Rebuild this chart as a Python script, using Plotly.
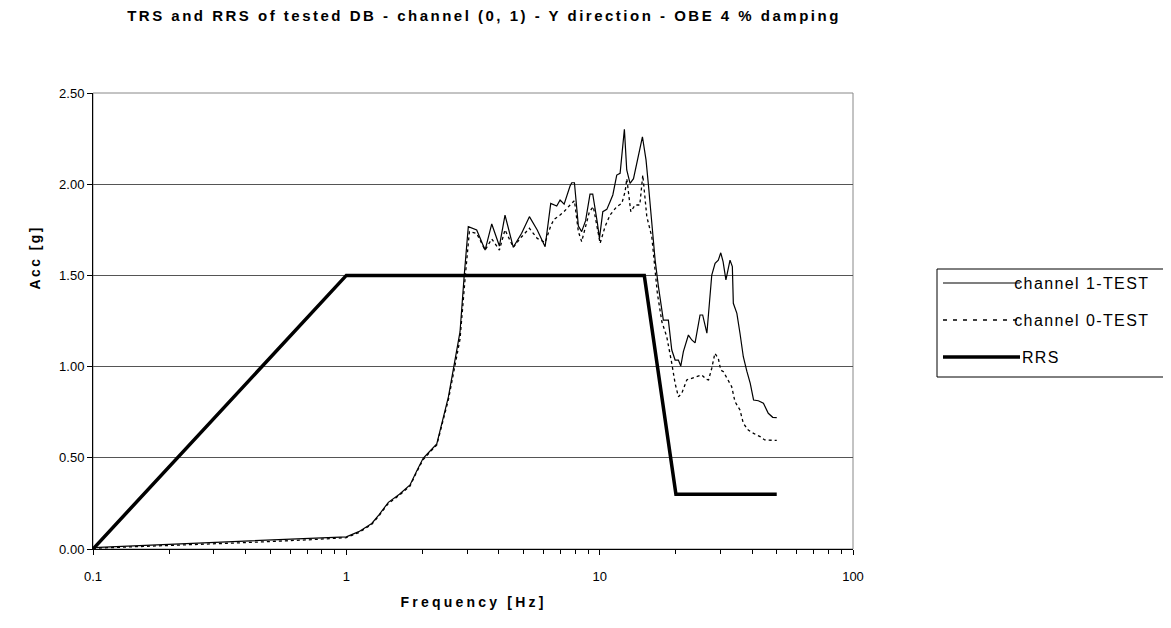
import plotly.graph_objects as go

title_text = "TRS and RRS of tested DB - channel (0, 1) - Y direction - OBE 4 % damping"
x_title = "Frequency [Hz]"
y_title = "Acc [g]"
series_names = ["channel 1-TEST", "channel 0-TEST", "RRS"]

ch1_freq = [0.1, 0.3, 0.6, 1.0, 1.12, 1.26, 1.35, 1.465, 1.62, 1.784, 1.9, 2.01, 2.15, 2.275,
            2.53, 2.81, 2.92, 3.03, 3.27, 3.53, 3.75, 4.02, 4.23, 4.56, 4.92, 5.28, 5.67, 6.09,
            6.41, 6.77, 6.98, 7.24, 7.64, 7.76, 7.95, 8.24, 8.49, 8.8, 9.16, 9.39, 9.8, 9.98,
            10.29, 10.67, 10.99, 11.27, 11.68, 12.04, 12.52, 12.79, 13.18, 13.6, 14.75, 15.24,
            15.6, 16.05, 16.55, 17.06, 17.84, 18.67, 19.26, 19.85, 20.45, 20.9, 21.4, 22.4,
            23.1, 23.8, 24.9, 25.5, 26.5, 27.7, 28.55, 29.4, 30.06, 30.7, 31.5, 32.7, 33.4,
            33.7, 34.8, 35.8, 36.9, 38.1, 39.3, 40.5, 42.3, 44.3, 46.3, 48.2, 50.0]
ch1_acc = [0.008, 0.035, 0.055, 0.067, 0.095, 0.14, 0.19, 0.256, 0.30, 0.351, 0.43, 0.497, 0.54, 0.576,
           0.835, 1.19, 1.50, 1.767, 1.749, 1.639, 1.782, 1.661, 1.831, 1.654, 1.731, 1.822, 1.749, 1.657,
           1.895, 1.880, 1.913, 1.891, 1.99, 2.008, 2.008, 1.771, 1.740, 1.80, 1.946, 1.946, 1.786, 1.703,
           1.849, 1.862, 1.904, 1.941, 2.050, 2.060, 2.301, 2.078, 2.005, 2.03, 2.26, 2.133,
           1.986, 1.804, 1.585, 1.438, 1.255, 1.255, 1.091, 1.036, 1.036, 1.003, 1.082, 1.173,
           1.146, 1.13, 1.283, 1.283, 1.183, 1.502, 1.566, 1.584, 1.624, 1.575, 1.475, 1.584, 1.548,
           1.347, 1.292, 1.183, 1.054, 0.975, 0.908, 0.817, 0.813, 0.799, 0.744, 0.722, 0.72]

ch0_freq = [0.1, 0.2, 0.4, 0.7, 1.0, 1.12, 1.26, 1.35, 1.465, 1.62, 1.784, 1.9, 2.01, 2.15, 2.275,
            2.53, 2.81, 2.95, 3.0, 3.06, 3.27, 3.53, 3.75, 4.02, 4.23, 4.56, 4.92, 5.28, 5.67, 6.09,
            6.41, 6.6, 6.98, 7.24, 7.64, 7.95, 8.24, 8.49, 9.11, 9.44, 10.04, 10.5, 10.99, 11.68,
            12.23, 12.6, 12.8, 13.27, 13.8, 14.4, 14.8, 15.35, 16.06, 16.55, 16.9, 17.6, 18.4,
            19.26, 19.85, 20.45, 21.09, 22.07, 23.1, 24.17, 25.3, 26.4, 26.9, 27.7, 28.5, 29.4,
            30.06, 30.8, 32.2, 33.2, 34.2, 35.8, 36.9, 38.6, 40.5, 43.0, 44.8, 50.0]
ch0_acc = [0.004, 0.018, 0.035, 0.05, 0.062, 0.09, 0.135, 0.185, 0.25, 0.295, 0.345, 0.425, 0.49, 0.535, 0.57,
           0.82, 1.15, 1.50, 1.63, 1.74, 1.73, 1.639, 1.70, 1.639, 1.75, 1.654, 1.712, 1.758, 1.703, 1.68,
           1.771, 1.807, 1.831, 1.85, 1.886, 1.91, 1.74, 1.685, 1.849, 1.877, 1.676, 1.767, 1.831, 1.877,
           1.895, 1.959, 2.03, 1.849, 1.886, 1.886, 2.05, 1.822, 1.712, 1.53, 1.40, 1.246, 1.164,
           1.018, 0.908, 0.835, 0.853, 0.927, 0.936, 0.945, 0.954, 0.93, 0.927, 0.991, 1.073, 1.045,
           0.981, 0.972, 0.927, 0.89, 0.808, 0.762, 0.689, 0.652, 0.634, 0.616, 0.598, 0.595]

rrs_freq = [0.1, 1.0, 15.0, 20.0, 50.0]
rrs_acc = [0.0, 1.5, 1.5, 0.3, 0.3]

x_tickvals = [0.1, 1, 10, 100]
x_ticktext = ["0.1", "1", "10", "100"]
x_minor = [0.2, 0.3, 0.4, 0.5, 0.6, 0.7, 0.8, 0.9, 2, 3, 4, 5, 6, 7, 8, 9,
           20, 30, 40, 50, 60, 70, 80, 90]
y_tickvals = [0.0, 0.5, 1.0, 1.5, 2.0, 2.5]

FONT = "Liberation Sans, Arial, sans-serif"

# layout geometry (pixels inside the figure)
W, H = 1163, 620
L, T, PW, PH = 85, 85, 760, 456


def px(x):
    return (x - L) / PW


def py(y):
    return (T + PH - y) / PH


line_styles = [dict(color="black", width=1.2),
               dict(color="black", width=1.3, dash="3px,3px"),
               dict(color="black", width=3.5)]
legend_dash = [None, "4px,6px", None]

fig = go.Figure()
for xs, ys, nm, st in zip([ch1_freq, ch0_freq, rrs_freq], [ch1_acc, ch0_acc, rrs_acc],
                          series_names, line_styles):
    fig.add_trace(go.Scatter(x=xs, y=ys, mode="lines", name=nm, line=st, showlegend=False))

fig.update_layout(
    width=W, height=H,
    paper_bgcolor="white", plot_bgcolor="white",
    margin=dict(l=L, r=W - L - PW, t=T, b=H - T - PH, autoexpand=False),
    font=dict(family=FONT, size=13, color="black"),
    title=dict(text=title_text, xref="paper", x=px(476), xanchor="center",
               yref="container", y=1 - 8 / H, yanchor="middle",
               font=dict(size=15, family=FONT, weight="bold")),
    showlegend=False,
)
fig.update_xaxes(type="log", range=[-1, 2], tickvals=x_tickvals, ticktext=x_ticktext,
                 ticks="outside", ticklen=5, tickcolor="black", showline=True, linecolor="black",
                 linewidth=1, showgrid=False, zeroline=False, ticklabelstandoff=10,
                 minor=dict(tickvals=x_minor, ticks="outside", ticklen=4, tickcolor="black", showgrid=False),
                 tickfont=dict(size=13, family=FONT))
fig.update_yaxes(range=[0, 2.5], tickvals=y_tickvals, tickformat=".2f",
                 ticks="outside", ticklen=5, tickcolor="black", showline=True, linecolor="black",
                 linewidth=1, showgrid=True, gridcolor="#555555", gridwidth=1, zeroline=False,
                 tickfont=dict(size=13, family=FONT))
# gray plot-area frame
fig.add_shape(type="rect", xref="paper", yref="paper", x0=0, y0=0, x1=1, y1=1,
              line=dict(color="#888888", width=1), layer="below")

# axis titles
fig.add_annotation(text=x_title, xref="paper", yref="paper", x=px(465), y=py(594),
                   showarrow=False, xanchor="center", yanchor="middle",
                   font=dict(size=14, family=FONT, weight="bold"))
fig.add_annotation(text=y_title, xref="paper", yref="paper", x=px(27), y=py(250),
                   showarrow=False, xanchor="center", yanchor="middle", textangle=-90,
                   font=dict(size=14, family=FONT, weight="bold"))

# legend drawn as a box with sample lines and labels
fig.add_shape(type="rect", xref="paper", yref="paper", x0=px(929), x1=px(1157), y0=py(369), y1=py(261),
              line=dict(color="black", width=1), fillcolor="white")
rows = [275, 312, 349]
for nm, st, dsh, ry in zip(series_names, line_styles, legend_dash, rows):
    lst = dict(color=st["color"], width=st["width"])
    if dsh:
        lst["dash"] = dsh
    fig.add_shape(type="line", xref="paper", yref="paper", x0=px(935), x1=px(1012), y0=py(ry), y1=py(ry),
                  line=lst)
    fig.add_annotation(text=nm, xref="paper", yref="paper", x=px(1014), y=py(ry), showarrow=False,
                       xanchor="left", yanchor="middle", font=dict(size=16, family=FONT))

spacing_js = """
var gd = document.getElementById('{plot_id}');
var sp = {};
sp[%s] = '2.5px';
sp[%s] = '3.2px';
sp[%s] = '2.4px';
sp[%s] = '1.4px';
sp[%s] = '1.4px';
sp[%s] = '1.4px';
gd.querySelectorAll('text').forEach(function(t){
  var s = t.textContent;
  if (Object.prototype.hasOwnProperty.call(sp, s)) { t.style.letterSpacing = sp[s]; }
});
""" % tuple('"' + s + '"' for s in [title_text, x_title, y_title] + series_names)

fig.write_html("out.html", post_script=spacing_js)
